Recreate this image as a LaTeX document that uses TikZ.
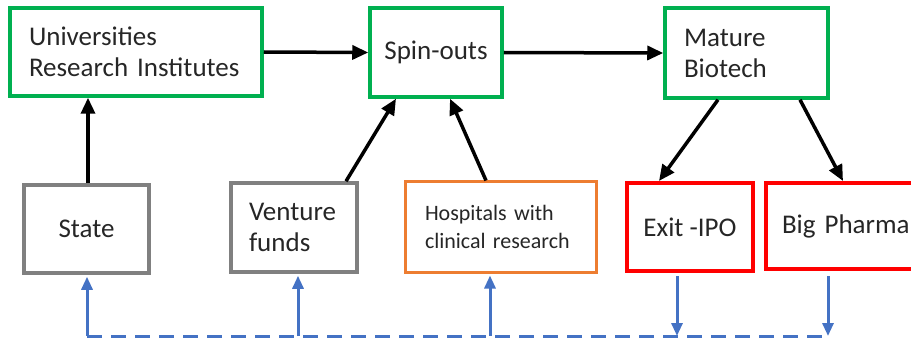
\documentclass[tikz,border=0pt]{standalone}
\usepackage{fontspec}
\setmainfont{Carlito}
\usetikzlibrary{arrows.meta}
\definecolor{boxgreen}{RGB}{0,176,80}
\definecolor{boxgray}{RGB}{128,128,128}
\definecolor{boxorange}{RGB}{237,125,49}
\definecolor{boxred}{RGB}{255,0,0}
\definecolor{linkblue}{RGB}{68,114,196}

\begin{document}
\begin{tikzpicture}[x=1pt,y=-1pt,
    box/.style={draw, line width=3.5pt, inner ysep=0pt, text=black!85,
                font=\fontsize{27}{31}\selectfont},
    flow/.style={line width=3.5pt, -{Triangle[length=16pt,width=14pt]}},
    money/.style={draw=linkblue, line width=3pt, -{Triangle[length=13pt,width=11pt]}}]
  \clip (0,0) rectangle (911,342);
  % top row
  \node[box, draw=boxgreen, text width=214pt, inner xsep=19pt, minimum height=88pt, align=left]
    (uni) at (136,52) {Universities\\Research Institutes};
  \node[box, draw=boxgreen, minimum width=132pt, minimum height=89pt] (spin) at (436,52.5) {Spin-outs};
  \node[box, draw=boxgreen, text width=125pt, inner xsep=19pt, minimum height=90pt, align=left]
    (mature) at (746.5,53) {Mature\\Biotech};
  % bottom row
  \node[box, draw=boxgray, minimum width=125pt, minimum height=88pt] (state) at (86.5,229) {State};
  \node[box, draw=boxgray, text width=90pt, inner xsep=18pt, minimum height=89pt, align=left]
    (venture) at (294,227.5) {Venture\\funds};
  \node[box, draw=boxorange, line width=3pt, text width=151pt, inner xsep=20pt, minimum height=90pt,
    align=left, font=\fontsize{22}{28}\selectfont] (hosp) at (500.5,227) {Hospitals with\\clinical research};
  \node[box, draw=boxred, line width=4pt, minimum width=126pt, minimum height=88pt] (exit) at (690,227) {Exit -IPO};
  \node[box, draw=boxred, line width=4pt, text width=140pt, inner xsep=16pt, minimum height=86pt, align=left]
    (pharma) at (852,226) {Big Pharma};
  % black arrows
  \draw[flow] (uni.east) -- (spin.west);
  \draw[flow] (spin.east) -- (mature.west);
  \draw[flow] ([xshift=1.5pt]state.north) -- ([xshift=1.5pt]state.north |- uni.south);
  \draw[flow] ([xshift=52pt]venture.north) -- ([xshift=-40pt]spin.south);
  \draw[flow] ([xshift=-14.5pt]hosp.north) -- ([xshift=14pt]spin.south);
  \draw[flow] ([xshift=-28.5pt]mature.south) -- ([xshift=-31pt]exit.north);
  \draw[flow] ([xshift=53.5pt]mature.south) -- ([xshift=-9pt]pharma.north);
  % blue loop
  \coordinate (s0) at (87,336);
  \coordinate (v0) at (298,336);
  \coordinate (h0) at (490,336);
  \coordinate (e0) at (677,336);
  \coordinate (p0) at (828,336);
  \draw[linkblue, line width=3pt, dash pattern=on 15pt off 9pt] (s0) -- (p0);
  \draw[money, shorten >=2pt] (s0) -- (s0 |- state.south);
  \draw[money, shorten >=2pt] (v0) -- (v0 |- venture.south);
  \draw[money, shorten >=2pt] (h0) -- (h0 |- hosp.south);
  \draw[money, shorten <=3pt] (e0 |- exit.south) -- (e0);
  \draw[money, shorten <=5pt] (p0 |- pharma.south) -- (p0);
\end{tikzpicture}
\end{document}
